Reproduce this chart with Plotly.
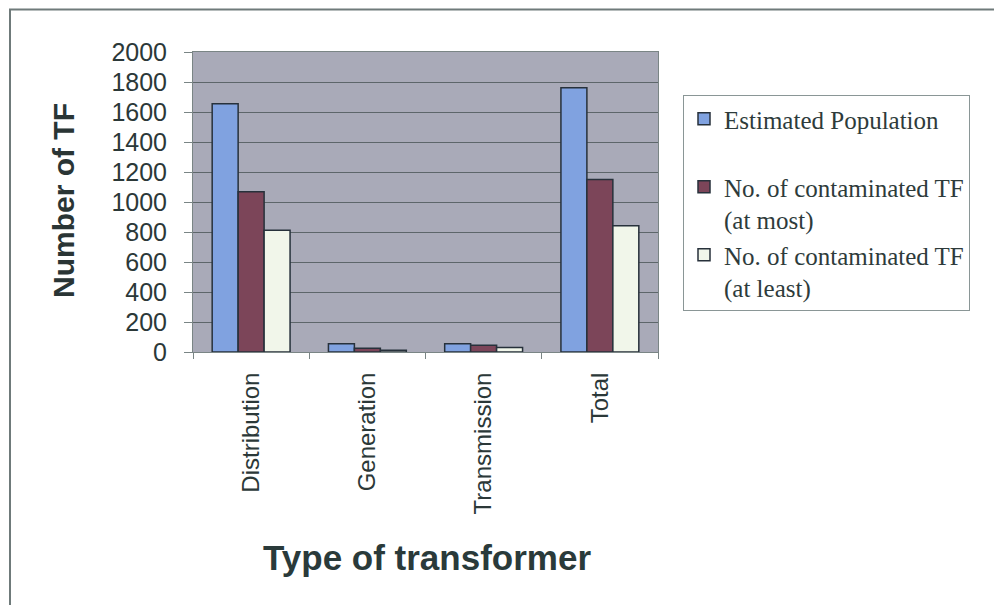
import plotly.graph_objects as go

categories = ["Distribution", "Generation", "Transmission", "Total"]
estimated_population = [1655, 55, 55, 1762]
contaminated_at_most = [1068, 25, 45, 1150]
contaminated_at_least = [812, 12, 30, 842]
series_names = ["Estimated Population<br>\u00a0",
                "No. of contaminated TF<br>(at most)",
                "No. of contaminated TF<br>(at least)"]
y_ticks = [0, 200, 400, 600, 800, 1000, 1200, 1400, 1600, 1800, 2000]

colors = ["#80a2e0", "#7c4559", "#f1f6ea"]
outline = "#27313b"

fig = go.Figure()
for name, vals, col in zip(series_names,
                           [estimated_population, contaminated_at_most, contaminated_at_least],
                           colors):
    fig.add_trace(go.Bar(x=categories, y=vals, name=name,
                         marker=dict(color=col, line=dict(color=outline, width=1.5))))

W, H = 994, 605
L, R, T, B = 193, 658, 52, 352
pw, ph = R - L, B - T

def px(xp):
    return (xp - L) / pw

def py(yp):
    return (B - yp) / ph

tick_font_color = "#2b3838"

fig.update_layout(
    width=W, height=H,
    margin=dict(l=L, r=W - R, t=T, b=H - B, autoexpand=False),
    paper_bgcolor="white",
    plot_bgcolor="#a9aab8",
    barmode="group",
    bargap=0.33,
    bargroupgap=0,
    showlegend=True,
    legend=dict(
        x=px(683), y=py(95), xanchor="left", yanchor="top",
        bgcolor="white", bordercolor="#8a9696", borderwidth=1,
        font=dict(family="Liberation Serif, Times New Roman, serif", size=25, color="#2e3b3b"),
        valign="top", traceorder="normal",
        itemwidth=30,
    ),
    xaxis=dict(
        type="category",
        tickangle=-90,
        tickfont=dict(family="Liberation Sans, Arial, sans-serif", size=24, color=tick_font_color),
        ticks="outside", ticklen=6, tickcolor="#7a8585",
        tickson="boundaries",
        ticklabelstandoff=10,
        showline=True, linecolor="#7a8585", linewidth=1, mirror=True,
        showgrid=False,
    ),
    yaxis=dict(
        range=[0, 2000],
        tickvals=y_ticks,
        tickfont=dict(family="Liberation Sans, Arial, sans-serif", size=25, color=tick_font_color),
        ticks="outside", ticklen=8, tickcolor="#7a8585",
        ticklabelstandoff=12,
        showline=True, linecolor="#7a8585", linewidth=1, mirror=True,
        showgrid=True, gridcolor="#5d666a", gridwidth=1,
        zeroline=False,
    ),
    annotations=[
        dict(text="<b>Number of TF</b>", textangle=-90,
             x=px(63), y=py(201), xref="paper", yref="paper",
             xanchor="center", yanchor="middle", showarrow=False,
             font=dict(family="Liberation Sans, Arial, sans-serif", size=30, color="#2a3535")),
        dict(text="<b>Type of transformer</b>",
             x=px(427), y=py(557), xref="paper", yref="paper",
             xanchor="center", yanchor="middle", showarrow=False,
             font=dict(family="Liberation Sans, Arial, sans-serif", size=35, color="#2a3a3a")),
    ],
    shapes=[
        dict(type="rect", xref="paper", yref="paper",
             x0=px(10), x1=px(1010), y0=py(620), y1=py(9.5),
             line=dict(color="#6f7a7a", width=2), fillcolor="rgba(0,0,0,0)", layer="below"),
    ],
)

fig.write_html("out.html")
